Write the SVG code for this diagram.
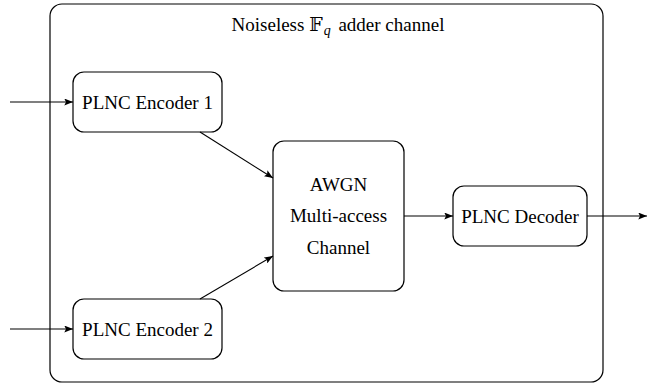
<svg xmlns="http://www.w3.org/2000/svg" width="655" height="388" viewBox="0 0 655 388">
<style>
.box{fill:#fff;stroke:#000;stroke-width:1.2}
.t{font-family:"Liberation Serif","DejaVu Serif",serif;font-size:19px;fill:#000;text-anchor:middle}
.c{stroke:#000;stroke-width:1.1;fill:none;marker-end:url(#ah)}
</style>
<defs>
<marker id="ah" viewBox="0 0 10 8" refX="10" refY="4" markerWidth="9" markerHeight="7" markerUnits="userSpaceOnUse" orient="auto">
<path d="M0,0 L10,4 L0,8 L2,4 Z" fill="#000"/>
</marker>
</defs>
<rect width="655" height="388" fill="#fff"/>
<g id="outer">
<rect class="box" x="50" y="4" width="553" height="378" rx="12"/>
<text class="t" x="338" y="31">Noiseless <tspan font-family="DejaVu Serif,serif" font-weight="normal">𝔽</tspan><tspan font-style="italic" font-size="14" dx="1" dy="4">q</tspan><tspan dx="3" dy="-4"> adder channel</tspan></text>
</g>
<g id="enc1">
<rect class="box" x="73" y="72" width="149" height="60" rx="11"/>
<text class="t" x="147.5" y="109">PLNC Encoder 1</text>
</g>
<g id="enc2">
<rect class="box" x="73" y="299" width="149" height="60" rx="11"/>
<text class="t" x="147.5" y="336">PLNC Encoder 2</text>
</g>
<g id="awgn">
<rect class="box" x="273" y="141" width="131" height="150" rx="11"/>
<text class="t" x="338.5" y="191">AWGN</text>
<text class="t" x="338.5" y="222">Multi-access</text>
<text class="t" x="338.5" y="254">Channel</text>
</g>
<g id="dec">
<rect class="box" x="453" y="186" width="134" height="60" rx="11"/>
<text class="t" x="520" y="223">PLNC Decoder</text>
</g>
<g id="connectors">
<line class="c" x1="10" y1="102" x2="73" y2="102"/>
<line class="c" x1="10" y1="329" x2="73" y2="329"/>
<line class="c" x1="200" y1="132" x2="273" y2="178"/>
<line class="c" x1="200" y1="299" x2="273" y2="256"/>
<line class="c" x1="404" y1="216" x2="453" y2="216"/>
<line class="c" x1="587" y1="216" x2="647" y2="216"/>
</g>
</svg>
